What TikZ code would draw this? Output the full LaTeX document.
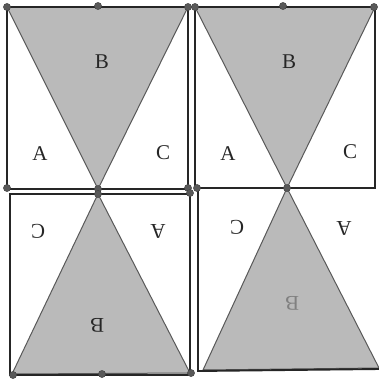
\documentclass[tikz,border=0pt]{standalone}
\usepackage{fontspec}
\setmainfont{Liberation Serif}
\begin{document}
\begin{tikzpicture}[x=1pt,y=-1pt,
  sq/.style={draw=black!85,line width=1.9pt},
  tri/.style={fill=black!27,draw=black!65,line width=1pt},
  lab/.style={font=\fontsize{21}{21}\selectfont,text=black!85},
  dot/.style={fill=black!65,draw=black!75,line width=0.4pt}]
\useasboundingbox (0,0) rectangle (379,378);
\fill[white] (0,0) rectangle (379,378);
% top-left
\coordinate (tl1) at (7,7); \coordinate (tl2) at (188,7);
\coordinate (tl3) at (188,189); \coordinate (tl4) at (7,189);
\coordinate (tla) at (98,189);
\filldraw[tri] (tl1) -- (tl2) -- (tla) -- cycle;
\draw[sq] (tl1) rectangle (tl3);
\node[lab] at (40,154) {A};
\node[lab] at (163,153) {C};
\node[lab] at (102,62) {B};
% top-right
\coordinate (tr1) at (195,7); \coordinate (tr2) at (375,7);
\coordinate (tr3) at (375,188); \coordinate (tr4) at (195,188);
\coordinate (tra) at (287,188);
\filldraw[tri] (tr1) -- (tr2) -- (tra) -- cycle;
\draw[sq] (tr1) rectangle (tr3);
\node[lab] at (228,154) {A};
\node[lab] at (350,152) {C};
\node[lab] at (289,62) {B};
% bottom-left
\coordinate (bl1) at (10,194); \coordinate (bl3) at (190,375);
\coordinate (bla) at (98,194); \coordinate (blb) at (12,374); \coordinate (blc) at (190,373);
\filldraw[tri] (bla) -- (blb) -- (blc) -- cycle;
\draw[sq] (bl1) rectangle (bl3);
\node[lab,rotate=180] at (38,231) {C};
\node[lab,rotate=180] at (158,231) {A};
\node[lab,rotate=180] at (97,325) {B};
% bottom-right
\coordinate (br1) at (198,188); \coordinate (br2) at (198,371);
\coordinate (br3) at (379,369);
\coordinate (brb) at (203,370); \coordinate (brc) at (379,368);
\filldraw[tri] (tra) -- (brb) -- (brc) -- cycle;
\draw[sq] (br1) -- (br2) -- (br3);
\node[lab,rotate=180] at (237,227) {C};
\node[lab,rotate=180] at (344,228) {A};
\node[lab,rotate=180,text=black!50] at (292,303) {B};
% dots
\foreach \p in {(7,7),(98,6),(188,7),(7,188),(98,189),(188,188),
  (195,7),(283,6),(374,7),(197,188),(287,188),
  (98,194),(190,193),(13,375),(102,374),(191,373)}
  \filldraw[dot] \p circle (3.6);
\end{tikzpicture}
\end{document}
